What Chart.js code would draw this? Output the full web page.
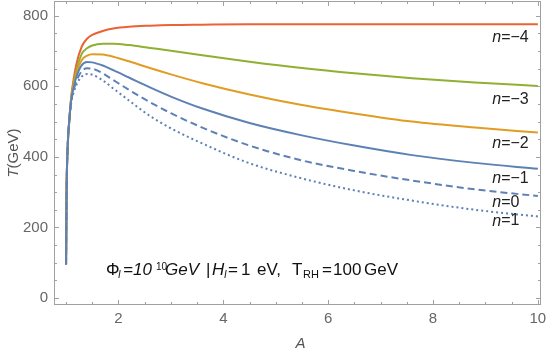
<!DOCTYPE html>
<html>
<head>
<meta charset="utf-8">
<script src="https://cdn.jsdelivr.net/npm/chart.js@4"></script>
<style>
  body { margin: 0; background: #fff; }
  #wrap { width: 548px; height: 354px; }
</style>
</head>
<body>
<div id="wrap"><canvas id="chart" width="548" height="354"></canvas></div>
<script>
// sample positions along A
const aValues = [1.0, 1.01, 1.03, 1.06, 1.1, 1.15, 1.2, 1.3, 1.4, 1.5, 1.7, 1.9, 2.2, 2.6, 3.0, 3.6, 4.5, 5.5, 6.5, 7.6, 8.8, 10];

// T (GeV) for each n
const tN4 = [95, 300, 425, 500, 572, 625, 665, 713, 735, 746, 757, 764, 769, 772, 774, 775, 776, 776, 776, 776, 776, 776];
const tN3 = [95, 300, 425, 500, 568, 615, 648, 692, 708, 716, 721, 721, 717, 709, 701, 688, 670, 652, 637, 623, 611, 601];
const tN2 = [95, 300, 425, 500, 565, 608, 638, 675, 687, 691, 690, 684, 671, 652, 634, 609, 577, 547, 523, 500, 483, 469];
const tN1 = [95, 300, 425, 500, 562, 600, 628, 660, 669, 668, 659, 646, 625, 597, 571, 537, 496, 461, 432, 405, 383, 366];
const tN0 = [95, 300, 425, 500, 558, 592, 616, 643, 651, 650, 637, 618, 590, 555, 524, 483, 432, 390, 360, 333, 308, 289];
const tP1 = [95, 300, 425, 500, 555, 585, 605, 628, 635, 633, 617, 594, 560, 516, 481, 438, 382, 339, 305, 276, 250, 231];

const curveLabels = ['n=\u22124', 'n=\u22123', 'n=\u22122', 'n=\u22121', 'n=0', 'n=1'];
const labelA = 9.13;
const labelT = [737, 562, 437, 338, 270, 218];

const xMajor = [2, 4, 6, 8, 10];
const xMinor = [1, 1.5, 2.5, 3, 3.5, 4.5, 5, 5.5, 6.5, 7, 7.5, 8.5, 9, 9.5];
const yMajor = [0, 200, 400, 600, 800];
const yMinor = [50, 100, 150, 250, 300, 350, 450, 500, 550, 650, 700, 750];

const BLUE = '#5e81b5', ORANGE = '#e19c24', GREEN = '#8fb032', RED = '#eb6235';
const FONT = '"Liberation Sans", Arial, sans-serif';

function pts(ys) {
    return aValues.map((a, i) => ({ x: a, y: ys[i] }));
}

function series(label, ys, color, dash) {
    return {
        label: label,
        data: pts(ys),
        borderColor: color,
        borderWidth: 2,
        borderDash: dash,
        pointRadius: 0,
        fill: false,
        cubicInterpolationMode: 'monotone'
    };
}

// frame, inward ticks and text drawn on top
const framePlugin = {
    id: 'frame',
    afterDraw(chart) {
        const ctx = chart.ctx;
        const a = chart.chartArea;
        const xs = chart.scales.x, ys = chart.scales.y;
        ctx.save();
        ctx.strokeStyle = '#a0a0a0';
        ctx.lineWidth = 1;
        ctx.strokeRect(a.left + 0.5, a.top + 0.5, a.right - a.left - 1, a.bottom - a.top - 1);
        ctx.beginPath();
        xMajor.concat(xMinor).forEach(v => {
            const len = xMajor.includes(v) ? 5 : 3;
            const px = Math.round(xs.getPixelForValue(v)) + 0.5;
            ctx.moveTo(px, a.bottom); ctx.lineTo(px, a.bottom - len);
            ctx.moveTo(px, a.top); ctx.lineTo(px, a.top + len);
        });
        yMajor.concat(yMinor).forEach(v => {
            const len = yMajor.includes(v) ? 5 : 3;
            const py = Math.round(ys.getPixelForValue(v)) + 0.5;
            ctx.moveTo(a.left, py); ctx.lineTo(a.left + len, py);
            ctx.moveTo(a.right, py); ctx.lineTo(a.right - len, py);
        });
        ctx.stroke();

        // curve labels
        ctx.fillStyle = '#222';
        ctx.textBaseline = 'middle';
        curveLabels.forEach((lab, i) => {
            let x = xs.getPixelForValue(labelA);
            const y = ys.getPixelForValue(labelT[i]);
            ctx.font = 'italic 16px ' + FONT;
            ctx.fillText('n', x, y);
            x += ctx.measureText('n').width;
            ctx.font = '16px ' + FONT;
            ctx.fillText(lab.slice(1), x, y);
        });

        // parameter text: [text, font, x, baseline shift]
        ctx.textBaseline = 'alphabetic';
        const base = 275;
        const parts = [
            ['\u03a6', '17px', 106, 0],
            ['I', 'italic 10px', 118, 3],
            ['=10', 'italic 17px', 123, 0],
            ['10', '10px', 156, -5],
            ['GeV', 'italic 17px', 165, 0],
            ['|', '17px', 206, 0],
            ['H', 'italic 17px', 212, 0],
            ['I', 'italic 10px', 224, 3],
            ['=', '17px', 228, 0],
            ['1', '17px', 241, 0],
            ['eV,', '17px', 257, 0],
            ['T', '17px', 292, 0],
            ['RH', '11px', 303, 3],
            ['=', '17px', 322, 0],
            ['100', '17px', 333, 0],
            ['GeV', '17px', 364, 0]
        ];
        ctx.fillStyle = '#111';
        parts.forEach(p => {
            ctx.font = p[1] + ' ' + FONT;
            ctx.fillText(p[0], p[2], base + p[3]);
        });

        // axis titles
        ctx.fillStyle = '#555';
        ctx.font = 'italic 15px ' + FONT;
        ctx.textAlign = 'center';
        ctx.fillText('A', (a.left + a.right) / 2 + 3, 348);
        ctx.translate(18, (a.top + a.bottom) / 2);
        ctx.rotate(-Math.PI / 2);
        ctx.textAlign = 'left';
        const w1 = ctx.measureText('T').width;
        ctx.font = '15px ' + FONT;
        const w2 = ctx.measureText('(GeV)').width;
        const start = -(w1 + w2) / 2;
        ctx.font = 'italic 15px ' + FONT;
        ctx.fillText('T', start, 0);
        ctx.font = '15px ' + FONT;
        ctx.fillText('(GeV)', start + w1, 0);
        ctx.restore();
    }
};

new Chart(document.getElementById('chart').getContext('2d'), {
    type: 'line',
    data: {
        datasets: [
            series('n=-1', tN1, BLUE, []),
            series('n=0', tN0, BLUE, [7, 4]),
            series('n=1', tP1, BLUE, [2, 3]),
            series('n=-2', tN2, ORANGE, []),
            series('n=-3', tN3, GREEN, []),
            series('n=-4', tN4, RED, [])
        ]
    },
    options: {
        responsive: false,
        animation: false,
        devicePixelRatio: 1,
        layout: { padding: { top: 1, right: 7, left: 0, bottom: 0 } },
        plugins: { legend: { display: false }, tooltip: { enabled: false } },
        scales: {
            x: {
                type: 'linear',
                min: 0.77,
                max: 10.06,
                grid: { display: false, drawTicks: false },
                border: { display: false },
                afterBuildTicks: s => { s.ticks = xMajor.map(v => ({ value: v })); },
                afterFit: s => { s.height = 49; s.paddingLeft = 0; s.paddingRight = 0; },
                ticks: { color: '#666', font: { family: FONT, size: 15 }, padding: 5, maxRotation: 0 }
            },
            y: {
                min: -20,
                max: 842,
                grid: { display: false, drawTicks: false },
                border: { display: false },
                afterBuildTicks: s => { s.ticks = yMajor.map(v => ({ value: v })); },
                afterFit: s => { s.width = 54; s.paddingTop = 0; s.paddingBottom = 0; },
                ticks: { color: '#666', font: { family: FONT, size: 15 }, padding: 6 }
            }
        }
    },
    plugins: [framePlugin]
});
</script>
</body>
</html>
